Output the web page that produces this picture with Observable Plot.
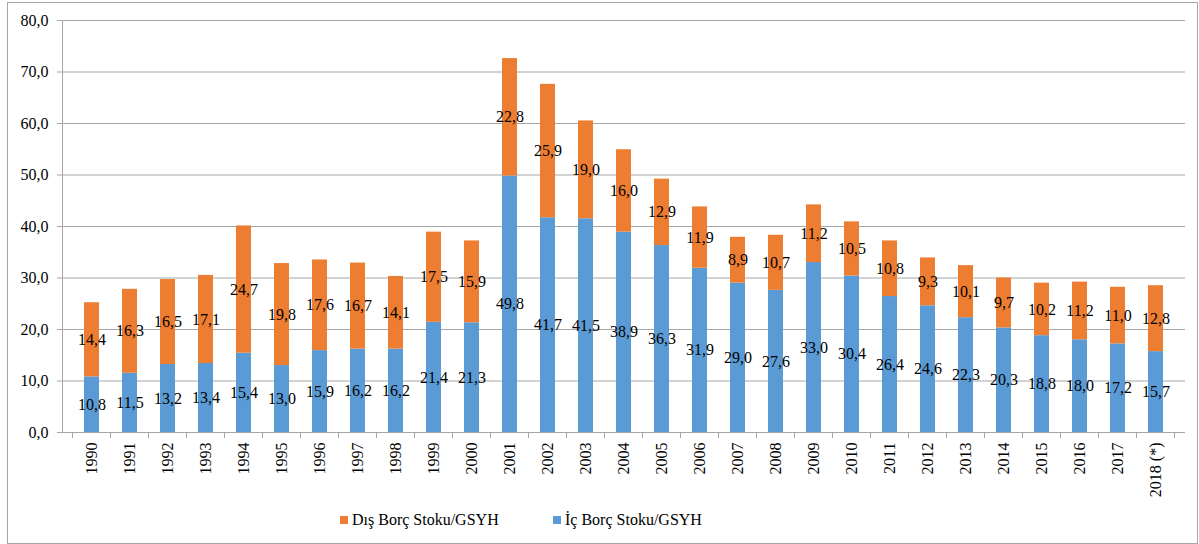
<!DOCTYPE html>
<html><head><meta charset="utf-8">
<script src="https://cdn.jsdelivr.net/npm/d3@7"></script>
<script src="https://cdn.jsdelivr.net/npm/@observablehq/plot@0.6"></script>
<style>
body{margin:0;background:#fff;font-family:"Liberation Serif","Times New Roman",serif;}
#frame{position:absolute;left:7px;top:2px;width:1189px;height:540px;border:1px solid #a6a6a6;box-sizing:content-box;}
#chart{position:absolute;left:0;top:0;}
#chart svg, #chart svg text{font-family:"Liberation Serif","Times New Roman",serif !important;}
#legend{position:absolute;top:510px;left:0;width:1199px;height:20px;font-size:16px;color:#000;}
.item{position:absolute;top:0;height:20px;display:flex;align-items:center;white-space:nowrap;}
.sw{width:8px;height:8px;margin-right:4px;}
</style></head><body>
<div id="frame"></div>
<div id="chart"></div>
<div id="legend"></div>
<script>
const years = ["1990","1991","1992","1993","1994","1995","1996","1997","1998","1999","2000","2001","2002","2003","2004","2005","2006","2007","2008","2009","2010","2011","2012","2013","2014","2015","2016","2017","2018 (*)"];
const icBorc = [10.8,11.5,13.2,13.4,15.4,13.0,15.9,16.2,16.2,21.4,21.3,49.8,41.7,41.5,38.9,36.3,31.9,29.0,27.6,33.0,30.4,26.4,24.6,22.3,20.3,18.8,18.0,17.2,15.7];
const disBorc = [14.4,16.3,16.5,17.1,24.7,19.8,17.6,16.7,14.1,17.5,15.9,22.8,25.9,19.0,16.0,12.9,11.9,8.9,10.7,11.2,10.5,10.8,9.3,10.1,9.7,10.2,11.2,11.0,12.8];
const seriesNames = ["İç Borç Stoku/GSYH","Dış Borç Stoku/GSYH"];
const seriesColors = ["#5B9BD5","#ED7D31"];
const legendOrder = ["Dış Borç Stoku/GSYH","İç Borç Stoku/GSYH"];
const yTicks = [0,10,20,30,40,50,60,70,80];

const fmt = v => v.toFixed(1).replace(".", ",");
const rows = [];
years.forEach((y,i) => {
  rows.push({year:y, series:seriesNames[0], value:icBorc[i], mid:icBorc[i]/2});
  rows.push({year:y, series:seriesNames[1], value:disBorc[i], mid:icBorc[i]+disBorc[i]/2});
});

const axisLines = (index, scales, values, dims) => {
  const g = d3.create("svg:g").attr("stroke","#a6a6a6").attr("stroke-width",1);
  const x = scales.x;
  const x0 = dims.marginLeft;
  const y0 = scales.y(0), yTop = scales.y(80);
  g.append("line").attr("x1",x0+0.5).attr("x2",x0+0.5).attr("y1",y0).attr("y2",yTop);
  const step = x.step(), bw = x.bandwidth();
  const bounds = years.map(d => x(d) - (step-bw)/2);
  bounds.push(x(years[years.length-1]) + bw + (step-bw)/2);
  bounds.forEach(b => g.append("line").attr("x1",b).attr("x2",b).attr("y1",y0).attr("y2",y0+6));
  return g.node();
};

const chart = Plot.plot({
  width:1199, height:505,
  marginLeft:62, marginRight:14, marginTop:20, marginBottom:73,
  style:"font-family:'Liberation Serif',serif;font-size:16px;color:#000;background:transparent;",
  x:{domain:years, paddingInner:0.6, paddingOuter:0.3, label:null},
  y:{domain:[0,80], label:null},
  color:{domain:seriesNames, range:seriesColors},
  marks:[
    Plot.gridY(yTicks.filter(d=>d>0), {stroke:"#a6a6a6", strokeOpacity:1}),
    Plot.barY(rows, Plot.stackY({x:"year", y:"value", fill:"series"})),
    Plot.text(rows, {x:"year", y:"mid", text:d=>fmt(d.value), fill:"#000", fontSize:16}),
    Plot.ruleY([0], {stroke:"#a6a6a6"}),
    Plot.axisY({ticks:yTicks, tickFormat:fmt, tickSize:5, tickPadding:9, stroke:"#a6a6a6", fontSize:16, label:null}),
    Plot.axisX({tickSize:0, tickRotate:-90, tickPadding:10, fontSize:16, label:null}),
    axisLines
  ]
});
document.getElementById("chart").appendChild(chart);

const legend = document.getElementById("legend");
const legendLeft = [340, 553];
legendOrder.forEach((name,i) => {
  const it = document.createElement("div");
  it.className = "item";
  it.style.left = legendLeft[i] + "px";
  const sw = document.createElement("div");
  sw.className = "sw";
  sw.style.background = seriesColors[seriesNames.indexOf(name)];
  const t = document.createElement("span");
  t.textContent = name;
  it.appendChild(sw); it.appendChild(t);
  legend.appendChild(it);
});
</script>
</body></html>
